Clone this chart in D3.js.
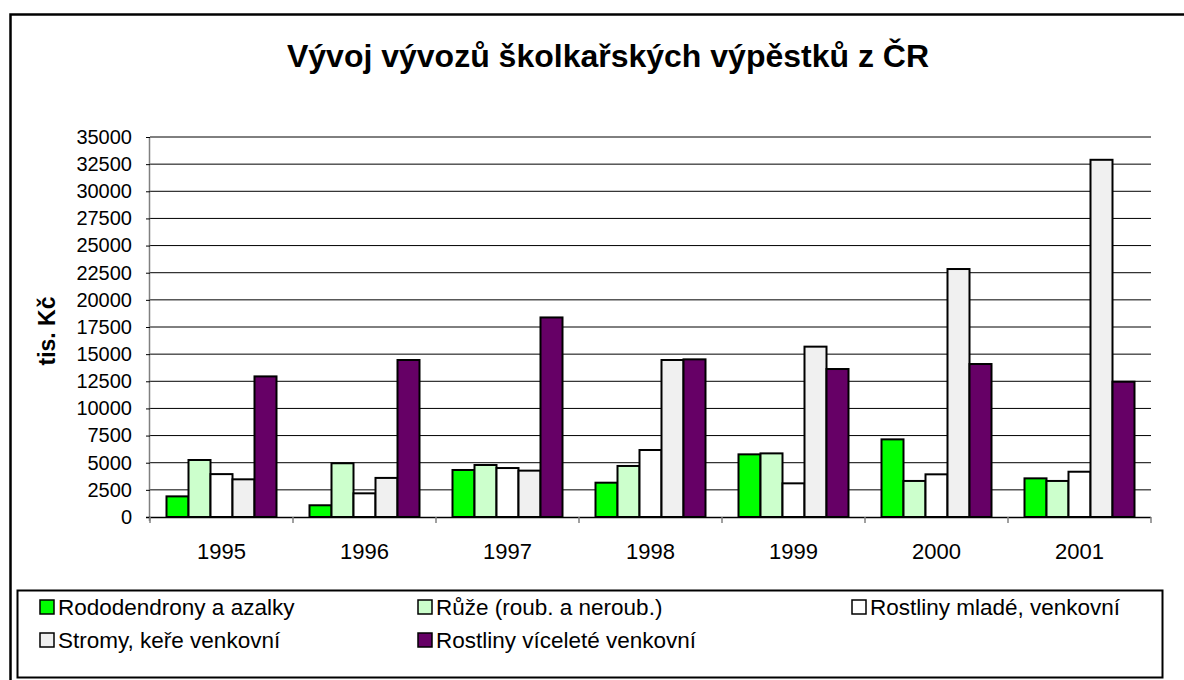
<!DOCTYPE html>
<html><head><meta charset="utf-8">
<script src="https://cdn.jsdelivr.net/npm/d3@7"></script>
<style>body{margin:0;background:#fff}svg{display:block;font-family:"Liberation Sans",Arial,sans-serif}</style>
</head><body>
<svg id="c" width="1184" height="680"></svg>
<script>
const years = ["1995","1996","1997","1998","1999","2000","2001"];
const seriesNames = ["Rododendrony a azalky","Růže (roub. a neroub.)","Rostliny mladé, venkovní","Stromy, keře venkovní","Rostliny víceleté venkovní"];
const seriesColors = ["#00FF00","#CCFFCC","#FFFFFF","#F0F0F0","#660066"];
const rododendrony = [1900,1080,4330,3160,5770,7150,3560];
const ruze = [5250,4950,4790,4700,5860,3320,3320];
const mlade = [3950,2180,4510,6170,3100,3930,4170];
const stromy = [3470,3600,4270,14460,15690,22840,32900];
const vicelete = [12950,14460,18380,14520,13630,14090,12460];
const yTicks = [0,2500,5000,7500,10000,12500,15000,17500,20000,22500,25000,27500,30000,32500,35000];
const title = "Vývoj vývozů školkařských výpěstků z ČR";
const yTitle = "tis. Kč";

const allSeries = [rododendrony, ruze, mlade, stromy, vicelete];
const svg = d3.select("#c");
const L = 150, R = 1151, T = 137, B = 517;

// outer frame (right and bottom edges lie outside the picture)
svg.append("rect").attr("x",10.5).attr("y",14.5).attr("width",1200).attr("height",700)
  .attr("fill","#fff").attr("stroke","#000").attr("stroke-width",2.5);

const x0 = d3.scaleBand().domain(years).range([L,R]);
const y = d3.scaleLinear().domain([0,35000]).range([B,T]);
// gap width 150%: five bars take 5/6.5 of each category, centered
const gw = x0.bandwidth()*5/6.5;
const off = (x0.bandwidth()-gw)/2;
const xs = d3.scaleBand().domain(d3.range(5)).range([off, off+gw]);

// gridlines
svg.append("g").selectAll("line").data(yTicks.filter(d=>d>0)).join("line")
  .attr("x1",L).attr("x2",R).attr("y1",d=>y(d)).attr("y2",d=>y(d))
  .attr("stroke","#000").attr("stroke-width",1);

// y axis
const yAxis = d3.axisLeft(y).tickValues(yTicks).tickSize(4).tickPadding(14).tickFormat(d=>String(d));
const gy = svg.append("g").attr("transform",`translate(${L},0)`).call(yAxis);
gy.select(".domain").attr("stroke","#808080").attr("d",`M-0.5,${T}V${B+4}`).attr("stroke-width",1.5);
gy.selectAll(".tick line").attr("stroke","#000");
gy.selectAll("text").attr("font-size",20).attr("fill","#000").attr("font-family","Liberation Sans, Arial");

// bars
const groups = svg.append("g").selectAll("g").data(years).join("g")
  .attr("transform",d=>`translate(${x0(d)},0)`);
groups.selectAll("rect").data((d,i)=>allSeries.map((s,k)=>({k,v:s[i]}))).join("rect")
  .attr("x",d=>xs(d.k)).attr("width",xs.bandwidth())
  .attr("y",d=>y(d.v)).attr("height",d=>B-y(d.v))
  .attr("fill",d=>seriesColors[d.k]).attr("stroke","#000").attr("stroke-width",2);

// x axis
const xAxis = d3.axisBottom(x0).tickSize(0).tickPadding(26);
const gx = svg.append("g").attr("transform",`translate(0,${B})`).call(xAxis);
gx.select(".domain").attr("stroke","#000").attr("d",`M${L-4},0.5H${R}`).attr("stroke-width",1.5);
gx.selectAll("text").attr("font-size",22).attr("fill","#000").attr("font-family","Liberation Sans, Arial");
svg.append("g").selectAll("line").data(years.concat(["end"])).join("line")
  .attr("x1",(d,i)=>L+i*x0.bandwidth()).attr("x2",(d,i)=>L+i*x0.bandwidth())
  .attr("y1",B).attr("y2",B+6).attr("stroke","#808080").attr("stroke-width",1.5);

// title
svg.append("text").attr("x",608).attr("y",67).attr("text-anchor","middle")
  .attr("font-size",32).attr("font-weight","bold").text(title);
// y title
svg.append("text").attr("transform","translate(55,331) rotate(-90)").attr("text-anchor","middle")
  .attr("font-size",23).attr("font-weight","bold").text(yTitle);

// legend
svg.append("rect").attr("x",17.5).attr("y",590.5).attr("width",1145).attr("height",87)
  .attr("fill","#fff").attr("stroke","#000").attr("stroke-width",2);
const legPos = [[40,607],[418,607],[852,607],[40,640],[418,640]];
const lg = svg.append("g").selectAll("g").data(seriesNames).join("g")
  .attr("transform",(d,i)=>`translate(${legPos[i][0]},${legPos[i][1]})`);
lg.append("rect").attr("x",0).attr("y",-7).attr("width",14).attr("height",14)
  .attr("fill",(d,i)=>seriesColors[i]).attr("stroke","#000").attr("stroke-width",1.5);
lg.append("text").attr("x",18).attr("y",8).attr("font-size",22.5).text(d=>d);
</script>
</body></html>
